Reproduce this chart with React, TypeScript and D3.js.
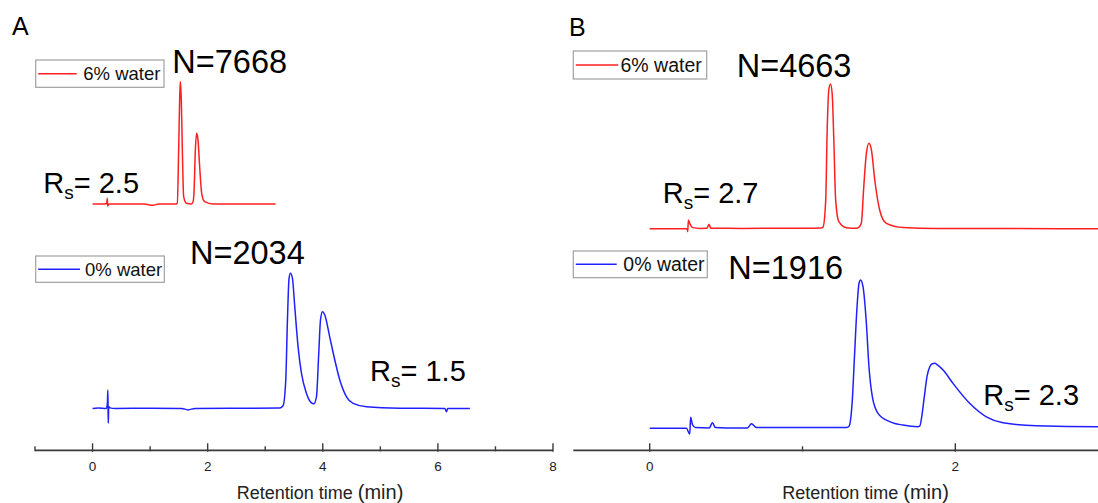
import React from "react";
import * as d3 from "d3";

type Pt = [number, number];

const W = 1098;
const H = 503;

// ---------- text content ----------
const panelLetters = ["A", "B"];
const legendLabels = ["6% water", "0% water"];
const plateCountsA = ["N=7668", "N=2034"];
const plateCountsB = ["N=4663", "N=1916"];
const resolutionsA = ["2.5", "1.5"];
const resolutionsB = ["2.7", "2.3"];
const axisTitle = "Retention time";
const axisUnit = "(min)";

// ---------- axis ticks ----------
const majorTicksA = [0, 2, 4, 6, 8];
const minorTicksA = [-1, 1, 3, 5, 7];
const majorTicksB = [0, 2];
const minorTicksB = [1, 3];

// ---------- chromatograms: [time (min), signal (a.u.)] ----------
// Panel A, 6% water (red)
const redA: Pt[] = [
  [0, 0], [0.2, 0], [0.245, 0.3], [0.256, 4.2], [0.263, -1.5], [0.29, 0],
  [0.9, 0], [1.05, -1], [1.15, 0], [1.45, 0], [1.472, 0.5], [1.496, 40],
  [1.513, 77], [1.525, 90.6], [1.542, 77], [1.56, 40], [1.583, 5.4],
  [1.63, 0.5], [1.716, 0], [1.745, 1.5], [1.762, 7.9], [1.786, 40],
  [1.809, 52.4], [1.832, 47.4], [1.861, 27.6], [1.896, 7.9], [1.948, 1.7],
  [2.09, 0], [3.18, 0],
];
// Panel A, 0% water (blue)
const blueA: Pt[] = [
  [0, 0], [0.1, 0.3], [0.24, 0], [0.258, 4], [0.266, 13.6], [0.27, -2],
  [0.274, -10.9], [0.28, 1.5], [0.3, 0.4], [0.4, 0], [1.0, 0.2], [1.55, 0],
  [1.66, -1.1], [1.78, 0], [2.5, 0.1], [3.25, 0.3], [3.31, 2], [3.357, 21],
  [3.386, 65.4], [3.414, 96.3], [3.438, 100], [3.473, 96.3], [3.513, 75.3],
  [3.571, 45.6], [3.63, 25.9], [3.717, 11.1], [3.803, 4.1], [3.843, 3.4],
  [3.89, 8.6], [3.93, 40.7], [3.96, 65.4], [3.995, 71.6], [4.035, 69.1],
  [4.12, 53], [4.209, 35.8], [4.296, 21], [4.412, 8.6], [4.527, 3.7],
  [4.76, 1.2], [5.34, 0.2], [6.12, 0], [6.15, -2.5], [6.17, 0], [6.556, 0],
];
// Panel B, 6% water (red)
const redB: Pt[] = [
  [0, 0], [0.2, 0], [0.245, 0], [0.249, -2], [0.253, 5.9], [0.262, 3.5],
  [0.283, 0.7], [0.33, 0.2], [0.375, 0.3], [0.388, 3], [0.4, 0.3], [0.6, 0.2],
  [1.0, 0.3], [1.12, 0.5], [1.134, 1], [1.152, 19.4], [1.161, 64.3],
  [1.172, 93.5], [1.183, 97.6], [1.194, 91.3], [1.205, 59.8], [1.217, 19.4],
  [1.238, 4.7], [1.286, 0.7], [1.352, 0.3], [1.37, 1], [1.385, 3.6],
  [1.401, 28.3], [1.418, 50.8], [1.435, 57.6], [1.451, 53.1], [1.473, 32.8],
  [1.505, 12.6], [1.549, 3.6], [1.658, 0.8], [1.876, 0.2], [3.0, 0],
];
// Panel B, 0% water (blue)
const blueB: Pt[] = [
  [0, 0], [0.24, 0], [0.262, -3.8], [0.268, 7.4], [0.28, 2.5], [0.3, 0.5],
  [0.39, 0.2], [0.41, 3.8], [0.43, 0.5], [0.5, 0.3], [0.64, 0.3],
  [0.666, 3.1], [0.7, 0.5], [1.0, 0.6], [1.29, 0.6], [1.305, 1.5],
  [1.326, 19], [1.34, 48], [1.357, 82], [1.37, 97.8], [1.38, 100],
  [1.396, 95.5], [1.418, 70.8], [1.435, 41.5], [1.457, 21.3], [1.494, 10.1],
  [1.57, 4.5], [1.657, 2.2], [1.754, 1.1], [1.767, 1.5], [1.782, 9],
  [1.798, 22], [1.815, 35], [1.833, 41.5], [1.85, 43.6], [1.865, 43.8],
  [1.885, 42.6], [1.92, 39.3], [1.985, 30.3], [2.094, 16.9], [2.203, 7.8],
  [2.312, 3.8], [2.53, 1.75], [2.93, 1.1], [3.0, 1.1],
];

// vertical stacking offsets (a.u.) for [6% water, 0% water]
const offsetsA = [151.3, 0];
const offsetsB = [134.6, 0];

const traceColors = ["#ff1f1f", "#2020ff"];
const FONT = "Arial, 'Liberation Sans', Helvetica, sans-serif";

type Legend = { x: number; y: number; w: number; h: number; x2: number; tx: number; fs: number };
type Cfg = {
  letter: string;
  letterPos: [number, number];
  xDomain: [number, number];
  xRange: [number, number];
  yDomain: [number, number];
  yRange: [number, number];
  axisY: number;
  major: number[];
  minor: number[];
  series: Pt[][];
  offsets: number[];
  legends: Legend[];
  nLabels: string[];
  nPos: [number, number][];
  rs: string[];
  rsPos: [number, number][];
  titleX: number;
  titleY: number;
};

const panelA: Cfg = {
  letter: panelLetters[0],
  letterPos: [12, 35],
  xDomain: [-1, 8],
  xRange: [35, 553],
  yDomain: [-31, 100],
  yRange: [450.3, 273.3],
  axisY: 450.3,
  major: majorTicksA,
  minor: minorTicksA,
  series: [redA, blueA],
  offsets: offsetsA,
  legends: [
    { x: 35.7, y: 60, w: 128.3, h: 27.3, x2: 76.7, tx: 83.3, fs: 18.5 },
    { x: 35.7, y: 256, w: 128.6, h: 26.3, x2: 80, tx: 85, fs: 18.5 },
  ],
  nLabels: plateCountsA,
  nPos: [[172.3, 73.3], [190, 264.3]],
  rs: resolutionsA,
  rsPos: [[43.3, 193.3], [370, 381]],
  titleX: 320,
  titleY: 499.3,
};

const panelB: Cfg = {
  letter: panelLetters[1],
  letterPos: [569, 36],
  xDomain: [-0.5, 3],
  xRange: [573.3, 1108.1],
  yDomain: [-14.8, 100],
  yRange: [450.3, 280],
  axisY: 450.3,
  major: majorTicksB,
  minor: minorTicksB,
  series: [redB, blueB],
  offsets: offsetsB,
  legends: [
    { x: 573.3, y: 51, w: 133.4, h: 28, x2: 618.3, tx: 620.5, fs: 19.5 },
    { x: 573.3, y: 251, w: 134, h: 26.7, x2: 616.7, tx: 623.3, fs: 19.5 },
  ],
  nLabels: plateCountsB,
  nPos: [[736.7, 77.3], [728.3, 279.3]],
  rs: resolutionsB,
  rsPos: [[662.7, 203.3], [983.3, 405]],
  titleX: 865.5,
  titleY: 499.3,
};

function Panel({ cfg }: { cfg: Cfg }) {
  const x = d3.scaleLinear().domain(cfg.xDomain).range(cfg.xRange);
  const y = d3.scaleLinear().domain(cfg.yDomain).range(cfg.yRange);
  const axisColor = "#3a3a3a";
  return (
    <g>
      <text x={cfg.letterPos[0]} y={cfg.letterPos[1]} fontSize={25} fill="#000">
        {cfg.letter}
      </text>

      {cfg.series.map((s, i) => {
        const off = cfg.offsets[i];
        const line = d3
          .line<Pt>()
          .x((d) => x(d[0]))
          .y((d) => y(d[1] + off))
          .curve(d3.curveMonotoneX);
        return (
          <path
            key={"s" + i}
            d={line(s) || ""}
            fill="none"
            stroke={traceColors[i]}
            strokeWidth={1.5}
            strokeLinejoin="round"
          />
        );
      })}

      {cfg.legends.map((L, i) => {
        const cy = L.y + L.h / 2;
        return (
          <g key={"l" + i}>
            <rect x={L.x} y={L.y} width={L.w} height={L.h} fill="#fff" stroke="#a0a0a0" strokeWidth={1.2} />
            <line x1={L.x + 2.5} x2={L.x2} y1={cy} y2={cy} stroke={traceColors[i]} strokeWidth={1.5} />
            <text x={L.tx} y={cy + L.fs * 0.36} fontSize={L.fs} fill="#111">
              {legendLabels[i]}
            </text>
          </g>
        );
      })}

      {cfg.nLabels.map((t, i) => (
        <text key={"n" + i} x={cfg.nPos[i][0]} y={cfg.nPos[i][1]} fontSize={32.5} fill="#000">
          {t}
        </text>
      ))}

      {cfg.rs.map((t, i) => (
        <text key={"r" + i} x={cfg.rsPos[i][0]} y={cfg.rsPos[i][1]} fontSize={29} fill="#000">
          <tspan>R</tspan>
          <tspan fontSize={19} dy={6}>s</tspan>
          <tspan dy={-6}>{"= " + t}</tspan>
        </text>
      ))}

      <line
        x1={cfg.xRange[0]}
        x2={cfg.xRange[1]}
        y1={cfg.axisY}
        y2={cfg.axisY}
        stroke={axisColor}
        strokeWidth={1.8}
      />
      {cfg.major.map((t) => (
        <g key={"M" + t}>
          <line x1={x(t)} x2={x(t)} y1={cfg.axisY - 7} y2={cfg.axisY + 1.5} stroke={axisColor} strokeWidth={1.4} />
          <text x={x(t)} y={cfg.axisY + 20.5} fontSize={13.5} textAnchor="middle" fill="#222">
            {d3.format("d")(t)}
          </text>
        </g>
      ))}
      {cfg.minor.map((t) => (
        <line key={"m" + t} x1={x(t)} x2={x(t)} y1={cfg.axisY - 4} y2={cfg.axisY + 1} stroke={axisColor} strokeWidth={1.4} />
      ))}

      <text x={cfg.titleX} y={cfg.titleY} textAnchor="middle" fill="#222">
        <tspan fontSize={18}>{axisTitle}</tspan>
        <tspan fontSize={20} dx={5}>{axisUnit}</tspan>
      </text>
    </g>
  );
}

export default function App() {
  return (
    <svg
      width={W}
      height={H}
      viewBox={`0 0 ${W} ${H}`}
      style={{ position: "absolute", left: 0, top: 0, background: "#fff", display: "block" }}
      fontFamily={FONT}
    >
      <rect x={0} y={0} width={W} height={H} fill="#fff" />
      <Panel cfg={panelA} />
      <Panel cfg={panelB} />
    </svg>
  );
}
